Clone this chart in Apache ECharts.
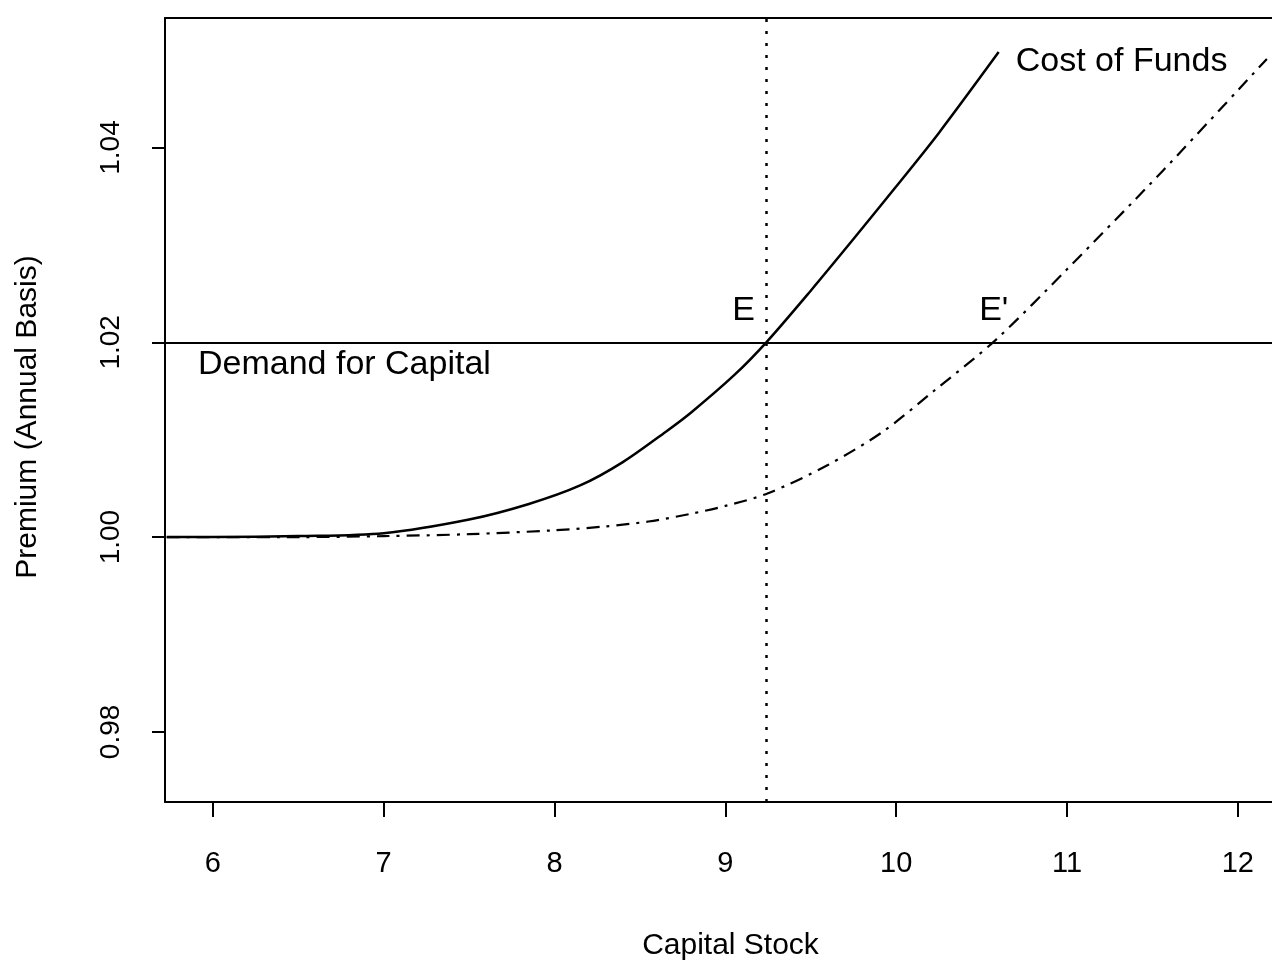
<!DOCTYPE html>
<html>
<head>
<meta charset="utf-8">
<script src="https://cdn.jsdelivr.net/npm/echarts@6/dist/echarts.min.js"></script>
<style>
html,body{margin:0;padding:0;background:#fff;}
#chart{width:1272px;height:966px;}
</style>
</head>
<body>
<div id="chart"></div>
<script>
// ---- data ----
const xTicks = [6, 7, 8, 9, 10, 11, 12];
const yTicks = [0.98, 1.00, 1.02, 1.04];

// "Cost of Funds" (solid)
const costX = [5.73, 6.0, 6.5, 7.0, 7.5, 7.85, 8.15, 8.4, 8.65, 8.8, 9.05, 9.24, 9.5, 9.75, 10.0, 10.25, 10.6];
const costY = [1.0000, 1.0000, 1.0001, 1.0004, 1.0018, 1.0034, 1.0053, 1.0077, 1.0108, 1.0128, 1.0166, 1.0200, 1.0253, 1.0306, 1.0360, 1.0415, 1.0498];

// shifted cost of funds (dash-dot)
const shiftX = [5.73, 6.5, 7.0, 7.5, 8.0, 8.3, 8.55, 8.8, 9.0, 9.25, 9.6, 9.92, 10.22, 10.58, 11.0, 11.56, 12.17];
const shiftY = [1.0000, 1.0000, 1.0001, 1.0003, 1.0007, 1.0011, 1.0016, 1.0024, 1.0032, 1.0045, 1.0074, 1.0108, 1.0150, 1.0202, 1.0275, 1.0376, 1.0491];

const demandLevel = 1.02;     // Demand for Capital (horizontal)
const equilibriumK = 9.24;    // vertical dotted line

const annotText = ['Cost of Funds', 'Demand for Capital', 'E', "E'"];
const annotX = [10.70, 5.913, 9.04, 10.486];
const annotY = [1.0488, 1.0177, 1.0233, 1.0233];

const xMin = 5.72, xMax = 12.2, yMin = 0.9728, yMax = 1.0533;

// ---- chart ----
const FONT = 'Liberation Sans, Arial, Helvetica, sans-serif';
const chart = echarts.init(document.getElementById('chart'), null, {renderer: 'canvas'});

const zip = (a, b) => a.map((v, i) => [v, b[i]]);

chart.setOption({
  animation: false,
  backgroundColor: '#ffffff',
  textStyle: {fontFamily: FONT, color: '#000'},
  grid: {left: 165, top: 18, right: 0, bottom: 163, show: false},
  xAxis: [{
    type: 'value', min: xMin, max: xMax, position: 'bottom',
    name: 'Capital Stock', nameLocation: 'middle', nameGap: 129,
    nameTextStyle: {fontFamily: FONT, fontSize: 30, color: '#000', padding: [0, 0, 0, 24]},
    axisLine: {show: true, onZero: false, lineStyle: {color: '#000', width: 2}},
    axisTick: {show: true, length: 15, inside: false, customValues: xTicks, lineStyle: {color: '#000', width: 2}},
    axisLabel: {show: true, customValues: xTicks, margin: 47, fontFamily: FONT, fontSize: 29, color: '#000'},
    splitLine: {show: false}
  }, {
    type: 'value', min: xMin, max: xMax, position: 'top',
    axisLine: {show: true, onZero: false, lineStyle: {color: '#000', width: 2}},
    axisTick: {show: false}, axisLabel: {show: false}, splitLine: {show: false}
  }],
  yAxis: {
    type: 'value', min: yMin, max: yMax,
    name: 'Premium (Annual Basis)', nameLocation: 'middle', nameGap: 122, nameRotate: 90,
    nameTextStyle: {fontFamily: FONT, fontSize: 30, color: '#000', padding: [0, 14, 0, 0]},
    axisLine: {show: true, onZero: false, lineStyle: {color: '#000', width: 2}},
    axisTick: {show: true, length: 13, customValues: yTicks, lineStyle: {color: '#000', width: 2}},
    axisLabel: {show: true, customValues: yTicks, rotate: 90, margin: 40, fontFamily: FONT, fontSize: 28, color: '#000',
      formatter: v => Number(v).toFixed(2)},
    splitLine: {show: false}
  },
  series: [
    {
      name: 'Cost of Funds', type: 'line', data: zip(costX, costY),
      smooth: 0.3, showSymbol: false, symbol: 'none',
      lineStyle: {color: '#000', width: 2.5, type: 'solid'},
      markLine: {
        silent: true, symbol: ['none', 'none'], label: {show: false},
        data: [
          {yAxis: demandLevel, lineStyle: {color: '#000', width: 2, type: 'solid'}},
          {xAxis: equilibriumK, lineStyle: {color: '#000', width: 2.5, type: [3, 9]}}
        ]
      }
    },
    {
      name: 'Shifted Cost of Funds', type: 'line', data: zip(shiftX, shiftY),
      smooth: 0.3, showSymbol: false, symbol: 'none',
      lineStyle: {color: '#000', width: 2.2, type: [13, 7, 3, 7]}
    },
    {
      name: 'labels', type: 'scatter', symbolSize: 0, silent: true,
      itemStyle: {opacity: 1, color: '#000'},
      data: annotX.map((x, i) => [x, annotY[i], annotText[i]]),
      label: {show: true, position: 'right', distance: 0, formatter: p => p.data[2],
        fontFamily: FONT, fontSize: 34, color: '#000', textBorderWidth: 0, opacity: 1,
        align: 'left', verticalAlign: 'middle'}
    }
  ]
});
</script>
</body>
</html>
